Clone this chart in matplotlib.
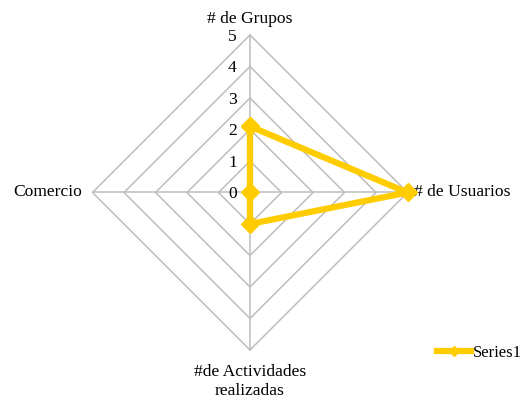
import numpy as np
import matplotlib
matplotlib.use("Agg")
import matplotlib.pyplot as plt

# data
categories = ["# de Grupos", "# de Usuarios", "#de Actividades\nrealizadas", "Comercio"]
values = [2.1, 5, 1, 0]
ticks = [0, 1, 2, 3, 4, 5]
series_name = "Series1"

plt.rcParams["font.family"] = ["Liberation Serif", "DejaVu Serif"]
fs = 12.6

fig = plt.figure(figsize=(5.24, 3.99), dpi=100)
ax = fig.add_axes([0, 0, 1, 1])
ax.axis("off")

# pixel mapping: center (250,192), 31.5 px per unit
s = 31.5
ax.set_xlim(-250 / s, (524 - 250) / s)
ax.set_ylim(-(399 - 192.5) / s, 192.5 / s)

angles = np.deg2rad([90, 0, -90, 180])
ca, sa = np.cos(angles), np.sin(angles)

grid_col = "#BDBDBD"
rmax = max(ticks)
# ring grid (diamonds)
for t in ticks[1:]:
    xs = np.append(t * ca, t * ca[0])
    ys = np.append(t * sa, t * sa[0])
    ax.plot(xs, ys, color=grid_col, lw=1.1, zorder=1)
# spokes
for c, si in zip(ca, sa):
    ax.plot([0, rmax * c], [0, rmax * si], color=grid_col, lw=1.1, zorder=1)

# tick labels along top axis
for t in ticks:
    ax.text(-0.42, t - 0.06, str(t), ha="right", va="center", fontsize=fs,
            color="black")

# category labels
ax.text(0, rmax + 0.52, categories[0], ha="center", va="center", fontsize=fs)
ax.text(rmax + 0.22, 0, categories[1], ha="left", va="center", fontsize=fs)
ax.text(0, -rmax - 0.45, categories[2], ha="center", va="top", fontsize=fs,
        linespacing=1.2)
ax.text(-rmax - 0.33, 0, categories[3], ha="right", va="center", fontsize=fs)

# series
v = np.array(values)
xs = np.append(v * ca, v[0] * ca[0])
ys = np.append(v * sa, v[0] * sa[0])
line, = ax.plot(xs, ys, color="#FFCC00", lw=4.5, marker="D", markersize=9,
                markerfacecolor="#FFCC00", markeredgecolor="#FFCC00",
                zorder=3, label=series_name)

ax.legend(handles=[line], loc="center left", bbox_to_anchor=(0.822, 0.115),
          frameon=False, fontsize=12, handlelength=2.0, handletextpad=0.1,
          borderaxespad=0, markerscale=0.6)

fig.savefig("out.png", dpi=100)
